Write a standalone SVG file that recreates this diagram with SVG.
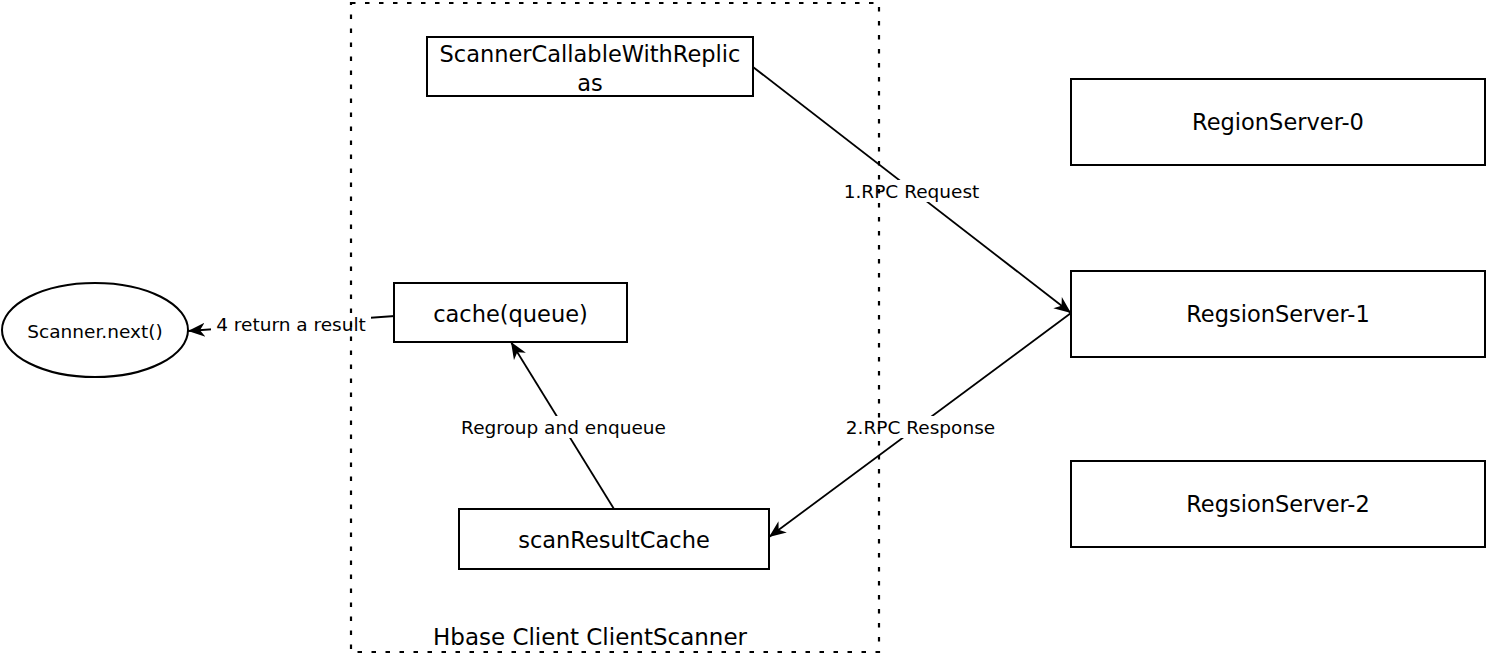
<svg xmlns="http://www.w3.org/2000/svg" width="1488" height="670" viewBox="0 0 1488 670">
<style>
.box{fill:#fff;stroke:#000;stroke-width:2}
.t{font-family:"DejaVu Sans","Liberation Sans",sans-serif;fill:#000;text-anchor:middle}
.n{font-size:22.5px}
.l{font-size:18.5px}
.edge{stroke:#000;stroke-width:1.8;fill:none}
.lbg{fill:#fff;stroke:none}
.cont{fill:none;stroke:#000;stroke-width:2.2;stroke-dasharray:4.5 9.5}
</style>
<defs>
<marker id="arr" markerUnits="userSpaceOnUse" markerWidth="20" markerHeight="16" viewBox="0 0 20 16" refX="17" refY="8" orient="auto">
<path d="M0,1 L17,8 L0,15 L5,8 z" fill="#000"/>
</marker>
</defs>
<rect width="1488" height="670" fill="#fff"/>
<g id="connectors">
<line class="edge" x1="753" y1="67" x2="1071" y2="313" marker-end="url(#arr)"/>
<line class="edge" x1="1071" y1="313" x2="769" y2="537" marker-end="url(#arr)"/>
<line class="edge" x1="614" y1="509" x2="511" y2="342" marker-end="url(#arr)"/>
<line class="edge" x1="395" y1="316" x2="188" y2="331" marker-end="url(#arr)"/>
<rect class="lbg" x="841" y="180" width="141" height="22"/>
<text class="t l" x="911.5" y="198">1.RPC Request</text>
<rect class="lbg" x="842" y="416" width="157" height="22"/>
<text class="t l" x="920.5" y="434">2.RPC Response</text>
<rect class="lbg" x="456" y="416" width="215" height="22"/>
<text class="t l" x="563.5" y="434">Regroup and enqueue</text>
<rect class="lbg" x="211" y="313" width="160" height="22"/>
<text class="t l" x="291" y="331">4 return a result</text>
</g>
<g id="scanner-next">
<ellipse cx="95" cy="330" rx="93" ry="47" fill="#fff" stroke="#000" stroke-width="2"/>
<text class="t l" x="95" y="338">Scanner.next()</text>
</g>
<g id="scanner-callable">
<rect class="box" x="427" y="37" width="326" height="59"/>
<text class="t n" x="590" y="61.5">ScannerCallableWithReplic</text>
<text class="t n" x="590" y="90.5">as</text>
</g>
<g id="cache-queue">
<rect class="box" x="394" y="283" width="233" height="59"/>
<text class="t n" x="510.5" y="322">cache(queue)</text>
</g>
<g id="scan-result-cache">
<rect class="box" x="459" y="509" width="310" height="60"/>
<text class="t n" x="614" y="548">scanResultCache</text>
</g>
<g id="region-server-0">
<rect class="box" x="1071" y="79" width="414" height="86"/>
<text class="t n" x="1278" y="130">RegionServer-0</text>
</g>
<g id="region-server-1">
<rect class="box" x="1071" y="271" width="414" height="86"/>
<text class="t n" x="1278" y="321.5">RegsionServer-1</text>
</g>
<g id="region-server-2">
<rect class="box" x="1071" y="461" width="414" height="86"/>
<text class="t n" x="1278" y="511.5">RegsionServer-2</text>
</g>
<g id="client-scanner">
<rect class="cont" x="351" y="3" width="528" height="649"/>
<text class="t" style="font-size:23px" x="590" y="645">Hbase Client ClientScanner</text>
</g>
</svg>
